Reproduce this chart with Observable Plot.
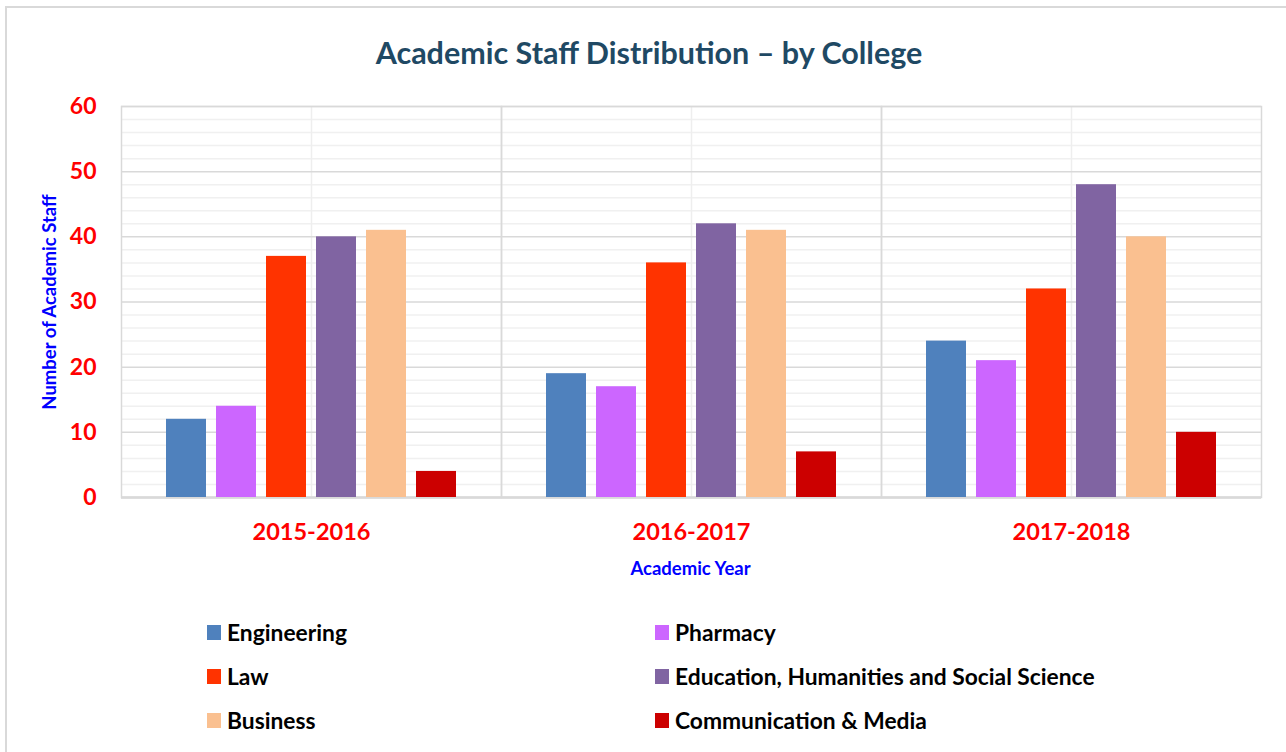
<!DOCTYPE html>
<html>
<head>
<meta charset="utf-8">
<script src="https://cdn.jsdelivr.net/npm/d3@7"></script>
<script src="https://cdn.jsdelivr.net/npm/@observablehq/plot@0.6"></script>
<style>
  html, body { margin: 0; padding: 0; background: #fff; overflow: hidden; }
  #page { position: relative; width: 1286px; height: 752px; font-family: Lato, "Open Sans", sans-serif; }
  #border { position: absolute; left: 5px; top: 6px; width: 1400px; height: 900px; border: 2px solid #d9d9d9; box-sizing: border-box; }
  #title { position: absolute; left: 0; width: 1298px; top: 32px; text-align: center; font-size: 30.5px; font-weight: 700; color: #1f4964; line-height: 40px; }
  #chart { position: absolute; left: 0; top: 0; }
  #ylabel { position: absolute; left: 49px; top: 302px; transform: translate(-50%, -50%) rotate(-90deg); white-space: nowrap; font-size: 18.5px; font-weight: 700; color: #0000ff; }
  #xlabel { position: absolute; left: 0; width: 1381px; top: 556px; text-align: center; font-size: 18.5px; font-weight: 700; color: #0000ff; line-height: 24px; }
  .leg { position: absolute; display: flex; align-items: center; font-size: 22.8px; font-weight: 700; color: #000; line-height: 26px; white-space: nowrap; }
  .sw { width: 14px; height: 15px; margin-right: 6px; }
</style>
</head>
<body>
<div id="page">
  <div id="border"></div>
  <div id="title"></div>
  <div id="chart"></div>
  <div id="ylabel"></div>
  <div id="xlabel"></div>
  <div id="legend"></div>
</div>
<script>
const title = "Academic Staff Distribution – by College";
const yLabel = "Number of Academic Staff";
const xLabel = "Academic Year";
const years = ["2015-2016", "2016-2017", "2017-2018"];
const colleges = ["Engineering", "Pharmacy", "Law", "Education, Humanities and Social Science", "Business", "Communication & Media"];
const colors = ["#4f81bd", "#cc66ff", "#ff3300", "#8064a2", "#fac090", "#cc0000"];
const engineering = [12, 19, 24];
const pharmacy = [14, 17, 21];
const law = [37, 36, 32];
const education = [40, 42, 48];
const business = [41, 41, 40];
const communication = [4, 7, 10];
const majorTicks = [0, 10, 20, 30, 40, 50, 60];
const minorTicks = [2, 4, 6, 8, 12, 14, 16, 18, 22, 24, 26, 28, 32, 34, 36, 38, 42, 44, 46, 48, 52, 54, 56, 58];

const series = [engineering, pharmacy, law, education, business, communication];
const data = [];
years.forEach((yr, j) => {
  colleges.forEach((c, i) => data.push({year: yr, college: c, value: series[i][j]}));
});

document.getElementById("title").textContent = title;
document.getElementById("ylabel").textContent = yLabel;
document.getElementById("xlabel").textContent = xLabel;

const chart = Plot.plot({
  width: 1286,
  height: 600,
  marginLeft: 120,
  marginRight: 25,
  marginTop: 106,
  marginBottom: 103,
  style: {fontFamily: "Lato, 'Open Sans', sans-serif", background: "transparent"},
  fx: {domain: years, padding: 0, label: null},
  x: {domain: colleges, paddingInner: 0.21, paddingOuter: 0.86, axis: null},
  y: {domain: [0, 60], label: null},
  color: {domain: colleges, range: colors},
  marks: [
    Plot.ruleY(minorTicks, {stroke: "#f0f0f0", strokeWidth: 1.5}),
    Plot.ruleX(years, {fx: d => d, x: null, stroke: "#eeeeee", strokeWidth: 1.5}),
    Plot.ruleY(majorTicks, {stroke: "#d9d9d9", strokeWidth: 1.5}),
    Plot.frame({stroke: "#d9d9d9", strokeWidth: 1.5}),
    Plot.ruleY([0], {stroke: "#d9d9d9", strokeWidth: 2.5}),
    Plot.barY(data, {fx: "year", x: "college", y: "value", fill: "college"}),
    Plot.axisY({ticks: majorTicks, tickSize: 0, tickPadding: 25, fontSize: 23, fontWeight: "bold", color: "#ff0000", label: null}),
    Plot.axisFx({anchor: "bottom", tickSize: 0, tickPadding: 26, fontSize: 23.5, fontWeight: "bold", color: "#ff0000", label: null})
  ]
});
document.getElementById("chart").appendChild(chart);

const legendPos = [[207, 632], [655, 632], [207, 676], [655, 676], [207, 720], [655, 720]];
const legend = document.getElementById("legend");
colleges.forEach((c, i) => {
  const d = document.createElement("div");
  d.className = "leg";
  d.style.left = legendPos[i][0] + "px";
  d.style.top = (legendPos[i][1] - 13) + "px";
  const sw = document.createElement("span");
  sw.className = "sw";
  sw.style.background = colors[i];
  d.appendChild(sw);
  d.appendChild(document.createTextNode(c));
  legend.appendChild(d);
});
</script>
</body>
</html>
